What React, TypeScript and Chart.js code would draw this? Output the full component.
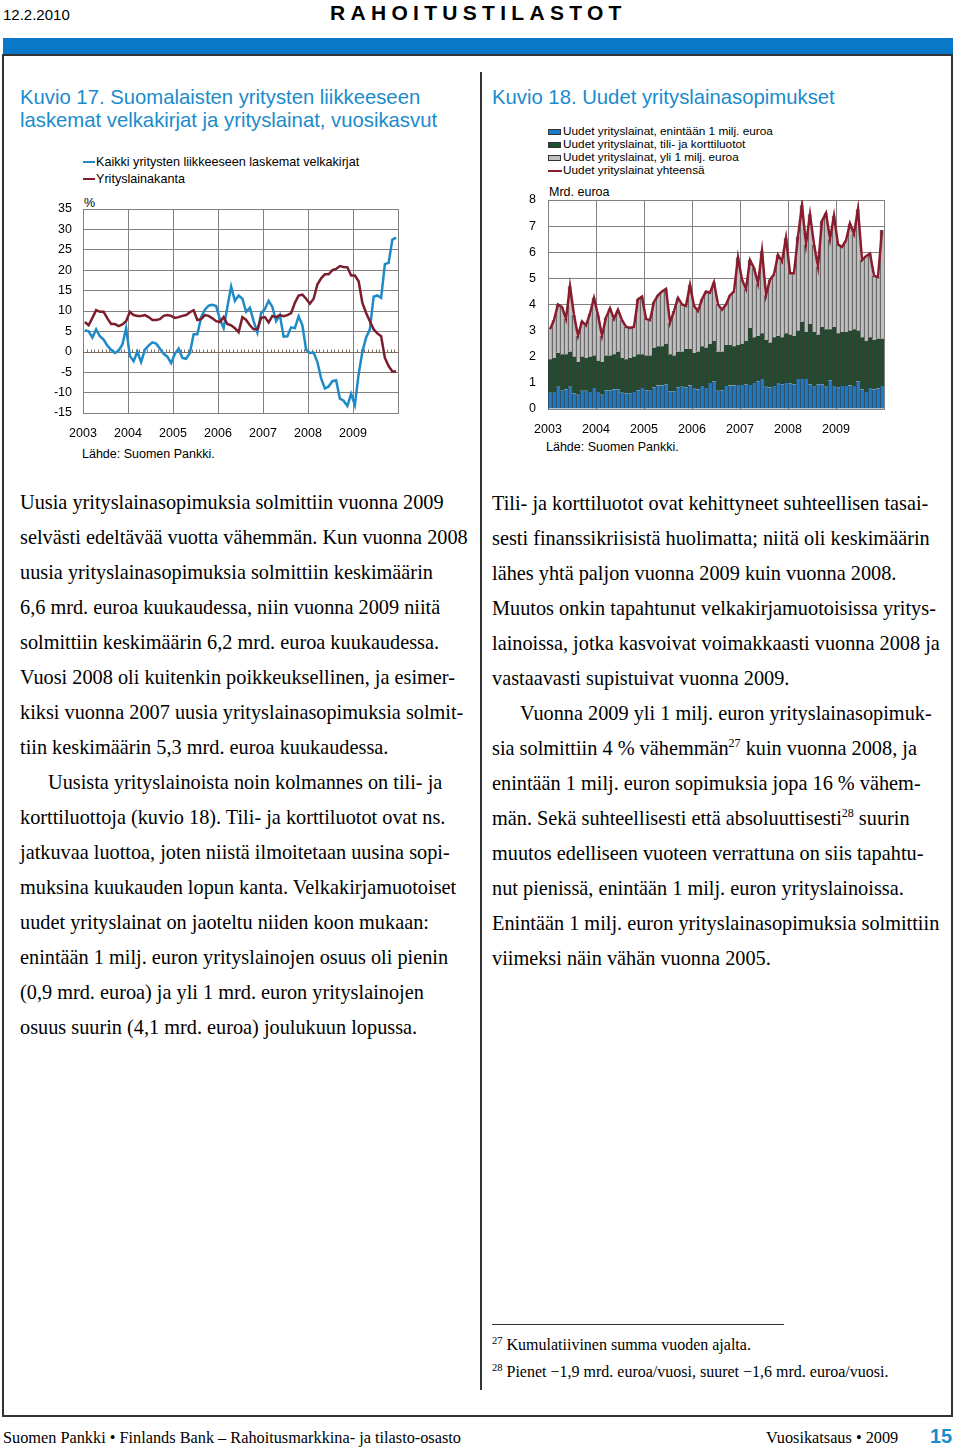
import React, { useEffect, useRef } from "react";
import { Chart, registerables } from "chart.js";

Chart.register(...registerables);

const yearLabels = ["2003", "2004", "2005", "2006", "2007", "2008", "2009"];
const yearEdges = [-0.5, 11.5, 23.5, 35.5, 47.5, 59.5, 71.5, 83.5];

// Kuvio 17: annual growth, %, monthly 2003-2009
const bondGrowth = [
  5.3, 5.0, 3.5, 5.5, 3.8, 3.0, 1.5, 0.5, -0.3, 0.3, 1.8, 5.8,
  -1.0, -2.3, 0.0, -2.5, 0.5, 1.5, 2.3, 2.0, 0.8, -0.5, -1.2, -2.8,
  -0.5, 0.8, -1.5, -1.7, -0.3, 4.3, 4.3, 8.5, 10.3, 11.3, 11.5, 11.2,
  8.0, 5.8, 11.0, 16.0, 12.5, 13.8, 13.0, 9.8, 10.8, 7.5, 4.7, 9.5,
  10.5, 12.5, 11.0, 7.5, 9.0, 3.7, 3.8, 6.0, 5.8, 8.7, 6.5, 0.5,
  -0.3, -0.2, -2.5, -6.5, -9.0, -8.5, -7.2, -7.0, -11.5, -12.0, -13.3, -10.3,
  -13.0, -5.5, 0.0, 3.5, 5.5, 13.5, 13.8, 13.2, 21.5, 21.8, 27.5, 28.0,
];
const loanStockGrowth = [
  7.3, 6.5, 8.3, 10.2, 9.8, 9.8, 8.2, 6.8, 6.8, 6.3, 6.7, 7.5,
  9.8, 9.0, 8.8, 8.8, 9.0, 8.5, 7.8, 7.8, 8.0, 8.8, 9.0, 8.8,
  8.3, 8.5, 8.8, 9.0, 9.7, 10.2, 7.8, 8.0, 9.0, 8.8, 8.2, 7.5,
  7.3, 8.5, 6.8, 6.5, 5.8, 4.8, 8.5, 7.8, 6.5, 5.5, 5.5, 8.3,
  8.5, 7.2, 8.8, 8.5, 9.0, 8.7, 9.0, 9.5, 12.0, 13.8, 14.0, 13.0,
  11.8, 13.0, 16.5, 18.0, 19.0, 19.0, 20.0, 20.3, 21.0, 20.8, 20.7, 18.7,
  18.7, 17.3, 12.0, 9.5, 7.5, 5.5, 4.5, 3.8, -1.5, -3.5, -4.8, -4.8,
];

// Kuvio 18: new corporate loans, bn euro, monthly 2003-2009
const loansSmall = [
  0.62, 0.65, 0.85, 0.70, 0.75, 0.85, 0.60, 0.55, 0.70, 0.70, 0.65, 0.80,
  0.65, 0.55, 0.72, 0.72, 0.75, 0.75, 0.62, 0.60, 0.60, 0.65, 0.72, 0.80,
  0.72, 0.70, 0.82, 0.90, 0.90, 0.95, 0.68, 0.68, 0.82, 0.85, 0.82, 0.90,
  0.80, 0.75, 0.88, 0.80, 1.00, 1.05, 0.70, 0.72, 0.88, 0.90, 0.90, 0.92,
  0.92, 0.95, 0.92, 1.00, 1.05, 1.15, 0.85, 0.82, 0.88, 1.00, 0.95, 1.00,
  0.98, 0.95, 1.15, 1.15, 1.15, 0.95, 0.85, 0.95, 0.95, 0.85, 1.10, 0.88,
  0.82, 0.88, 0.88, 0.90, 0.88, 1.05, 0.75, 0.65, 0.80, 0.75, 0.78, 0.88,
];
const loansCard = [
  1.28, 1.30, 1.30, 1.40, 1.35, 1.35, 1.40, 1.25, 1.30, 1.25, 1.35, 1.25,
  1.20, 1.25, 1.33, 1.33, 1.35, 1.45, 1.33, 1.30, 1.35, 1.35, 1.38, 1.30,
  1.33, 1.35, 1.53, 1.50, 1.50, 1.55, 1.42, 1.37, 1.38, 1.35, 1.48, 1.40,
  1.35, 1.45, 1.52, 1.55, 1.50, 1.55, 1.50, 1.48, 1.57, 1.55, 1.50, 1.53,
  1.58, 1.65, 2.18, 1.75, 1.75, 1.75, 1.80, 1.73, 1.87, 1.80, 1.80, 1.90,
  1.87, 1.85, 1.85, 2.20, 1.80, 2.30, 2.10, 1.90, 2.20, 2.20, 1.95, 2.27,
  2.08, 2.07, 2.07, 2.10, 2.17, 1.95, 2.00, 1.95, 1.95, 1.90, 1.92, 1.82,
];
const loansLarge = [
  1.15, 1.45, 1.85, 1.80, 1.35, 2.50, 1.60, 1.00, 1.35, 1.25, 1.65, 2.20,
  1.75, 1.00, 1.45, 1.80, 1.35, 1.60, 1.45, 1.25, 1.15, 1.15, 2.10, 2.20,
  1.40, 1.35, 1.75, 1.95, 2.10, 2.10, 1.20, 1.70, 2.05, 1.80, 1.65, 2.45,
  1.80, 1.55, 1.80, 2.15, 1.95, 2.25, 1.80, 1.60, 1.55, 1.90, 2.10, 3.35,
  2.45, 2.00, 2.60, 2.65, 2.00, 3.15, 1.70, 2.40, 2.40, 3.10, 2.90, 3.65,
  2.35, 2.40, 3.60, 4.45, 3.35, 4.20, 3.35, 2.60, 4.05, 4.45, 3.45, 4.25,
  3.40, 3.25, 3.50, 4.10, 3.65, 4.65, 2.95, 3.25, 3.20, 2.45, 2.35, 4.15,
];
const loansTotal = [
  3.05, 3.40, 4.00, 3.90, 3.45, 4.70, 3.60, 2.80, 3.35, 3.20, 3.65, 4.25,
  3.60, 2.80, 3.50, 3.85, 3.45, 3.80, 3.40, 3.15, 3.10, 3.15, 4.20, 4.30,
  3.45, 3.40, 4.10, 4.35, 4.50, 4.60, 3.30, 3.75, 4.25, 4.00, 3.95, 4.75,
  3.95, 3.75, 4.20, 4.50, 4.45, 4.85, 4.00, 3.80, 4.00, 4.35, 4.50, 5.80,
  4.95, 4.60, 5.70, 5.40, 4.80, 6.05, 4.35, 4.95, 5.15, 5.90, 5.65, 6.55,
  5.20, 5.20, 6.60, 7.80, 6.30, 7.45, 6.30, 5.45, 7.20, 7.50, 6.50, 7.40,
  6.30, 6.20, 6.45, 7.10, 6.70, 7.65, 5.70, 5.85, 5.95, 5.10, 5.05, 6.85,
];

const SANS = "'Liberation Sans', Arial, sans-serif";
const SERIF = "'Liberation Serif', 'Times New Roman', serif";
const TITLE_BLUE = "#1b8bcb";
const LINE_BLUE = "#1f8ac8";
const LINE_RED = "#7c1d2d";
const BAR_BLUE = "#1d7cc8";
const BAR_GREEN = "#1f4e2c";
const BAR_GRAY = "#bfbfbf";
const TOTAL_RED = "#8b1c2e";
const GRID = "#808080";

Chart.defaults.font.family = SANS;
Chart.defaults.color = "#000";

const toXY = (arr: number[]) => arr.map((v, i) => ({ x: i, y: v }));
const yearTickCallback = (value: any) => {
  const idx = yearEdges.indexOf(Number(value));
  return idx >= 0 && idx < yearLabels.length ? yearLabels[idx] : "";
};
const noPadY = (w: number) => (s: any) => {
  s.width = w;
  s.paddingTop = 0;
  s.paddingBottom = 0;
};
const noPadX = (h: number) => (s: any) => {
  s.height = h;
  s.paddingLeft = 0;
  s.paddingRight = 0;
};

const zeroAxisPlugin = {
  id: "zeroAxis",
  beforeDatasetsDraw(chart: any) {
    const { ctx, chartArea, scales } = chart;
    const x = scales.x;
    const y = scales.y;
    const py = Math.round(y.getPixelForValue(0)) + 0.5;
    ctx.save();
    ctx.strokeStyle = "#7f6e62";
    ctx.lineWidth = 1;
    ctx.beginPath();
    ctx.moveTo(chartArea.left, py);
    ctx.lineTo(chartArea.right, py);
    for (let i = 0; i <= bondGrowth.length; i++) {
      const px = Math.round(x.getPixelForValue(i - 0.5)) + 0.5;
      ctx.moveTo(px, py - 3);
      ctx.lineTo(px, py);
    }
    ctx.stroke();
    ctx.restore();
  },
};

function GrowthChart() {
  const ref = useRef<HTMLCanvasElement>(null);
  useEffect(() => {
    if (!ref.current) return;
    const chart = new Chart(ref.current, {
      type: "line",
      data: {
        datasets: [
          { label: "Kaikki yritysten liikkeeseen laskemat velkakirjat", data: toXY(bondGrowth), borderColor: LINE_BLUE, borderWidth: 2.5, pointRadius: 0, tension: 0, order: 1 },
          { label: "Yrityslainakanta", data: toXY(loanStockGrowth), borderColor: LINE_RED, borderWidth: 2.5, pointRadius: 0, tension: 0, order: 0 },
        ],
      },
      options: {
        animation: false,
        responsive: false,
        devicePixelRatio: 1,
        layout: { padding: { top: 14, right: 12, left: 0, bottom: 0 } },
        plugins: { legend: { display: false }, tooltip: { enabled: false } },
        scales: {
          x: {
            type: "linear", min: -0.5, max: 83.5, offset: false,
            afterBuildTicks: (s: any) => { s.ticks = yearEdges.map((v) => ({ value: v })); },
            afterFit: noPadX(27),
            grid: { color: GRID, drawTicks: false, lineWidth: 1, offset: false },
            border: { display: true, color: GRID },
            ticks: { autoSkip: false, maxRotation: 0, padding: 13, font: { size: 12.5 }, color: "#000", callback: yearTickCallback },
          },
          y: {
            min: -15, max: 35,
            afterFit: noPadY(53),
            grid: { drawTicks: false, color: (c: any) => (c.tick && c.tick.value === 0 ? "rgba(0,0,0,0)" : GRID) },
            border: { display: true, color: GRID },
            ticks: { stepSize: 5, padding: 11, font: { size: 12.5 }, color: "#000" },
          },
        },
      },
      plugins: [zeroAxisPlugin],
    });
    return () => chart.destroy();
  }, []);
  return <canvas ref={ref} width={380} height={245} style={{ position: "absolute", left: 30, top: 195, width: 380, height: 245 }} />;
}

function LoansChart() {
  const ref = useRef<HTMLCanvasElement>(null);
  useEffect(() => {
    if (!ref.current) return;
    const barCommon = {
      type: "bar" as const, stack: "s", order: 1, barPercentage: 1, categoryPercentage: 1,
      borderColor: "#3c3c3c", borderWidth: { left: 1, right: 0, top: 0, bottom: 0 }, borderSkipped: false,
    };
    const chart = new Chart(ref.current, {
      type: "bar",
      data: {
        datasets: [
          { type: "line", label: "Uudet yrityslainat yhteensä", data: toXY(loansTotal), borderColor: TOTAL_RED, borderWidth: 2.5, pointRadius: 0, tension: 0, stack: "total", order: 0 } as any,
          { ...barCommon, label: "Uudet yrityslainat, enintään 1 milj. euroa", data: toXY(loansSmall), backgroundColor: BAR_BLUE },
          { ...barCommon, label: "Uudet yrityslainat, tili- ja korttiluotot", data: toXY(loansCard), backgroundColor: BAR_GREEN },
          { ...barCommon, label: "Uudet yrityslainat, yli 1 milj. euroa", data: toXY(loansLarge), backgroundColor: BAR_GRAY },
        ],
      },
      options: {
        animation: false,
        responsive: false,
        devicePixelRatio: 1,
        layout: { padding: { top: 10, right: 11, left: 0, bottom: 0 } },
        plugins: { legend: { display: false }, tooltip: { enabled: false } },
        scales: {
          x: {
            type: "linear", stacked: true, min: -0.5, max: 83.5, offset: false,
            afterBuildTicks: (s: any) => { s.ticks = yearEdges.map((v) => ({ value: v })); },
            afterFit: noPadX(31),
            grid: { color: GRID, drawTicks: false, offset: false },
            border: { display: true, color: GRID },
            ticks: { autoSkip: false, maxRotation: 0, padding: 13, font: { size: 12.5 }, color: "#000", callback: yearTickCallback },
          },
          y: {
            stacked: true, min: 0, max: 8,
            afterFit: noPadY(58),
            grid: { color: GRID, drawTicks: false },
            border: { display: true, color: GRID },
            ticks: { stepSize: 1, padding: 12, font: { size: 12.5 }, color: "#000" },
          },
        },
      } as any,
    });
    return () => chart.destroy();
  }, []);
  return <canvas ref={ref} width={405} height={250} style={{ position: "absolute", left: 490, top: 190, width: 405, height: 250 }} />;
}

type TP = { x: number; cy: number; size: number; font?: string; color?: string; bold?: boolean; ls?: number; children: React.ReactNode };
function T({ x, cy, size, font = SANS, color = "#000", bold = false, ls = 0, children }: TP) {
  return (
    <div style={{ position: "absolute", left: x, top: cy - size / 2, fontSize: size, lineHeight: `${size}px`, fontFamily: font, color, fontWeight: bold ? 700 : 400, letterSpacing: ls, whiteSpace: "nowrap" }}>
      {children}
    </div>
  );
}

const leftLines: [number, React.ReactNode][] = [
  [20, "Uusia yrityslainasopimuksia solmittiin vuonna 2009"],
  [20, "selvästi edeltävää vuotta vähemmän. Kun vuonna 2008"],
  [20, "uusia yrityslainasopimuksia solmittiin keskimäärin"],
  [20, "6,6 mrd. euroa kuukaudessa, niin vuonna 2009 niitä"],
  [20, "solmittiin keskimäärin 6,2 mrd. euroa kuukaudessa."],
  [20, "Vuosi 2008 oli kuitenkin poikkeuksellinen, ja esimer-"],
  [20, "kiksi vuonna 2007 uusia yrityslainasopimuksia solmit-"],
  [20, "tiin keskimäärin 5,3 mrd. euroa kuukaudessa."],
  [48, "Uusista yrityslainoista noin kolmannes on tili- ja"],
  [20, "korttiluottoja (kuvio 18). Tili- ja korttiluotot ovat ns."],
  [20, "jatkuvaa luottoa, joten niistä ilmoitetaan uusina sopi-"],
  [20, "muksina kuukauden lopun kanta. Velkakirjamuotoiset"],
  [20, "uudet yrityslainat on jaoteltu niiden koon mukaan:"],
  [20, "enintään 1 milj. euron yrityslainojen osuus oli pienin"],
  [20, "(0,9 mrd. euroa) ja yli 1 mrd. euron yrityslainojen"],
  [20, "osuus suurin (4,1 mrd. euroa) joulukuun lopussa."],
];

const sup = (n: string) => <span style={{ fontSize: 12, position: "relative", top: -8 }}>{n}</span>;

const rightLines: [number, React.ReactNode][] = [
  [492, "Tili- ja korttiluotot ovat kehittyneet suhteellisen tasai-"],
  [492, "sesti finanssikriisistä huolimatta; niitä oli keskimäärin"],
  [492, "lähes yhtä paljon vuonna 2009 kuin vuonna 2008."],
  [492, "Muutos onkin tapahtunut velkakirjamuotoisissa yritys-"],
  [492, "lainoissa, jotka kasvoivat voimakkaasti vuonna 2008 ja"],
  [492, "vastaavasti supistuivat vuonna 2009."],
  [520, "Vuonna 2009 yli 1 milj. euron yrityslainasopimuk-"],
  [492, <>sia solmittiin 4 % vähemmän{sup("27")} kuin vuonna 2008, ja</>],
  [492, "enintään 1 milj. euron sopimuksia jopa 16 % vähem-"],
  [492, <>män. Sekä suhteellisesti että absoluuttisesti{sup("28")} suurin</>],
  [492, "muutos edelliseen vuoteen verrattuna on siis tapahtu-"],
  [492, "nut pienissä, enintään 1 milj. euron yrityslainoissa."],
  [492, "Enintään 1 milj. euron yrityslainasopimuksia solmittiin"],
  [492, "viimeksi näin vähän vuonna 2005."],
];

export default function App() {
  return (
    <div style={{ position: "absolute", left: 0, top: 0, width: 960, height: 1450, background: "#fff", overflow: "hidden" }}>
      <T x={3} cy={14} size={15}>12.2.2010</T>
      <div style={{ position: "absolute", left: 330, top: 2, fontFamily: SANS, fontWeight: 700, fontSize: 21, lineHeight: "21px", letterSpacing: 5.3, whiteSpace: "nowrap" }}>
        RAHOITUSTILASTOT
      </div>
      <div style={{ position: "absolute", left: 3, top: 38, width: 950, height: 16, background: "#0a78c8" }} />
      <div style={{ position: "absolute", left: 2, top: 54, width: 947, height: 1359, border: "2px solid #333" }} />
      <div style={{ position: "absolute", left: 480, top: 72, width: 2, height: 1318, background: "#333" }} />

      <T x={20} cy={97} size={20.3} color={TITLE_BLUE}>Kuvio 17. Suomalaisten yritysten liikkeeseen</T>
      <T x={20} cy={120} size={20.3} color={TITLE_BLUE}>laskemat velkakirjat ja yrityslainat, vuosikasvut</T>
      <div style={{ position: "absolute", left: 83, top: 161, width: 12, height: 2, background: LINE_BLUE }} />
      <T x={96} cy={162} size={12.6}>Kaikki yritysten liikkeeseen laskemat velkakirjat</T>
      <div style={{ position: "absolute", left: 83, top: 178, width: 12, height: 2, background: LINE_RED }} />
      <T x={96} cy={179} size={12.6}>Yrityslainakanta</T>
      <T x={84} cy={203} size={12.5}>%</T>
      <GrowthChart />
      <T x={82} cy={454} size={12.5}>Lähde: Suomen Pankki.</T>

      <T x={492} cy={97} size={20.3} color={TITLE_BLUE}>Kuvio 18. Uudet yrityslainasopimukset</T>
      <div style={{ position: "absolute", left: 548, top: 129, width: 13, height: 6, background: BAR_BLUE, border: "1px solid #333", boxSizing: "border-box" }} />
      <T x={563} cy={132} size={11.8}>Uudet yrityslainat, enintään 1 milj. euroa</T>
      <div style={{ position: "absolute", left: 548, top: 142, width: 13, height: 6, background: BAR_GREEN, border: "1px solid #333", boxSizing: "border-box" }} />
      <T x={563} cy={145} size={11.8}>Uudet yrityslainat, tili- ja korttiluotot</T>
      <div style={{ position: "absolute", left: 548, top: 155, width: 13, height: 6, background: BAR_GRAY, border: "1px solid #333", boxSizing: "border-box" }} />
      <T x={563} cy={158} size={11.8}>Uudet yrityslainat, yli 1 milj. euroa</T>
      <div style={{ position: "absolute", left: 548, top: 170, width: 14, height: 2, background: TOTAL_RED }} />
      <T x={563} cy={171} size={11.8}>Uudet yrityslainat yhteensä</T>
      <T x={549} cy={192} size={12.5}>Mrd. euroa</T>
      <LoansChart />
      <T x={546} cy={447} size={12.5}>Lähde: Suomen Pankki.</T>

      {leftLines.map(([x, t], i) => (
        <T key={"l" + i} x={x} cy={502 + i * 35} size={20.3} font={SERIF}>{t}</T>
      ))}
      {rightLines.map(([x, t], i) => (
        <T key={"r" + i} x={x} cy={503 + i * 35} size={20.3} font={SERIF}>{t}</T>
      ))}

      <div style={{ position: "absolute", left: 492, top: 1324, width: 292, height: 1, background: "#333" }} />
      <T x={492} cy={1345} size={16} font={SERIF}>
        <span style={{ fontSize: 10.5, position: "relative", top: -6 }}>27</span> Kumulatiivinen summa vuoden ajalta.
      </T>
      <T x={492} cy={1372} size={16} font={SERIF}>
        <span style={{ fontSize: 10.5, position: "relative", top: -6 }}>28</span> Pienet −1,9 mrd. euroa/vuosi, suuret −1,6 mrd. euroa/vuosi.
      </T>

      <T x={3} cy={1438} size={16.3} font={SERIF}>Suomen Pankki • Finlands Bank – Rahoitusmarkkina- ja tilasto-osasto</T>
      <T x={766} cy={1438} size={16.3} font={SERIF}>Vuosikatsaus • 2009</T>
      <T x={930} cy={1436} size={20} bold color={TITLE_BLUE}>15</T>
    </div>
  );
}
